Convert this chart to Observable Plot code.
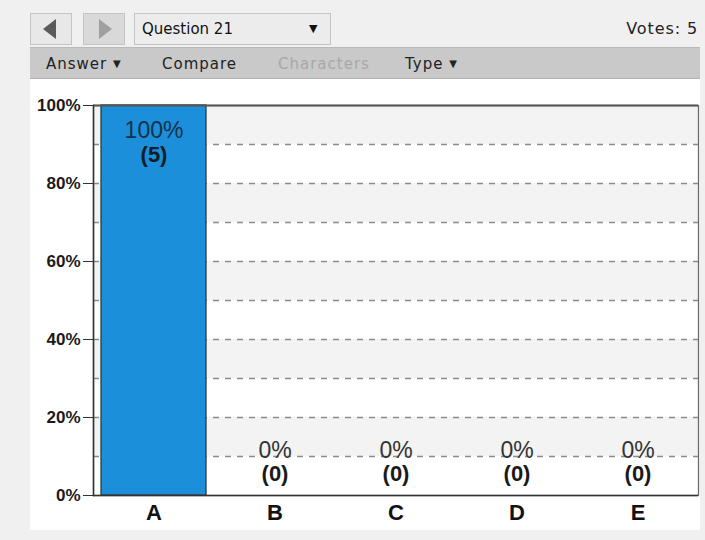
<!DOCTYPE html>
<html>
<head>
<meta charset="utf-8">
<script src="https://cdn.jsdelivr.net/npm/d3@7"></script>
<script src="https://cdn.jsdelivr.net/npm/@observablehq/plot@0.6"></script>
<style>
  html, body { margin: 0; padding: 0; }
  body { width: 705px; height: 540px; background: #f0f0f0; position: relative; overflow: hidden; font-family: "DejaVu Sans", sans-serif; }
  .btn { position: absolute; top: 13px; height: 30px; border: 1px solid #c4c4c4; box-sizing: content-box; }
  .tri { position: absolute; width: 0; height: 0; border-top: 10px solid transparent; border-bottom: 10px solid transparent; top: 5px; }
  #prev { left: 30px; width: 40px; background: #e8e8e8; }
  #prev .tri { border-right: 13px solid #5a5a5a; left: 12px; }
  #next { left: 83px; width: 40px; background: #d9d9d9; }
  #next .tri { border-left: 13px solid #a0a0a0; left: 15px; }
  #dd { left: 134px; width: 195px; background: #ececec; }
  #dd .lbl { position: absolute; left: 7px; top: 6px; font-size: 15px; color: #111; }
  #dd .arr { position: absolute; left: 174px; top: 8px; font-size: 11px; color: #111; }
  #votes { position: absolute; right: 7px; top: 19px; font-size: 16px; letter-spacing: 0.9px; color: #222; }
  #menubar { position: absolute; left: 30px; top: 47px; width: 670px; height: 30px; background: #c9c9c9; border-top: 1px solid #b8b8b8; border-bottom: 1px solid #b0b0b0; }
  .mi { position: absolute; top: 7px; font-size: 15px; letter-spacing: 1px; color: #222; }
  .mi .a { font-size: 10px; position: relative; top: -2px; }
  #panel { position: absolute; left: 30px; top: 79px; width: 670px; height: 451px; background: #fff; }
  #chart { position: absolute; left: 30px; top: 80px; }
  #chart svg text { font-family: "Liberation Sans", Arial, sans-serif; }
</style>
</head>
<body>
<div class="btn" id="prev"><div class="tri"></div></div>
<div class="btn" id="next"><div class="tri"></div></div>
<div class="btn" id="dd"><span class="lbl">Question 21</span><span class="arr">▼</span></div>
<div id="votes">Votes: 5</div>
<div id="menubar">
  <span class="mi" style="left:16px">Answer <span class="a">▼</span></span>
  <span class="mi" style="left:132px">Compare</span>
  <span class="mi" style="left:248px;color:#a8a8a8">Characters</span>
  <span class="mi" style="left:375px">Type <span class="a">▼</span></span>
</div>
<div id="panel"></div>
<div id="chart"></div>
<script>
const answers = ["A", "B", "C", "D", "E"];
const percents = [100, 0, 0, 0, 0];
const counts = [5, 0, 0, 0, 0];
const yTicks = [0, 20, 40, 60, 80, 100];
const gridLines = [10, 20, 30, 40, 50, 60, 70, 80, 90];
const shadedBands = [10, 30, 50, 70, 90]; // lower edges of the gray 10% stripes

const data = answers.map((a, i) => ({answer: a, pct: percents[i], count: counts[i]}));
const tall = data.filter(d => d.pct >= 20);
const short = data.filter(d => d.pct < 20);

const chart = Plot.plot({
  width: 670,
  height: 450,
  marginLeft: 63,
  marginRight: 2,
  marginTop: 25,
  marginBottom: 35,
  style: {background: "transparent", color: "#222"},
  x: {domain: answers, paddingInner: 0.13, paddingOuter: 0.065, label: null},
  y: {domain: [0, 100], label: null},
  marks: [
    Plot.rect(shadedBands, {y1: d => d, y2: d => d + 10, fill: "#f3f3f3"}),
    Plot.ruleY(gridLines, {stroke: "#8c8c8c", strokeWidth: 1.5, strokeDasharray: "6,6"}),
    Plot.barY(data, {x: "answer", y: "pct", fill: "#1b8fd9", stroke: "#2e3a44", strokeWidth: 1.3}),
    Plot.frame({stroke: "#6a6a6a", strokeWidth: 1.3}),
    Plot.ruleY([100], {stroke: "#555", strokeWidth: 2}),
    Plot.ruleY([0], {stroke: "#333", strokeWidth: 1.5}),
    Plot.frame({anchor: "left", stroke: "#333", strokeWidth: 1.5}),
    Plot.axisY({ticks: yTicks, tickFormat: d => d + "%", tickSize: 10, tickPadding: 3, fontSize: 17, fontWeight: "bold", stroke: "#333", fill: "#1a1a1a", label: null}),
    Plot.axisX({tickSize: 0, tickPadding: 9, fontSize: 22, fontWeight: "bold", fill: "#111", label: null}),
    Plot.text(tall, {x: "answer", y: "pct", text: d => d.pct + "%", dy: 25, fontSize: 23, fill: "#16314a"}),
    Plot.text(tall, {x: "answer", y: "pct", text: d => "(" + d.count + ")", dy: 49, fontSize: 22, fontWeight: "bold", fill: "#111c26"}),
    Plot.text(short, {x: "answer", y: "pct", text: d => d.pct + "%", dy: -45, fontSize: 23, fill: "#333"}),
    Plot.text(short, {x: "answer", y: "pct", text: d => "(" + d.count + ")", dy: -22, fontSize: 22, fontWeight: "bold", fill: "#1a1a1a"})
  ]
});
document.getElementById("chart").appendChild(chart);
</script>
</body>
</html>
